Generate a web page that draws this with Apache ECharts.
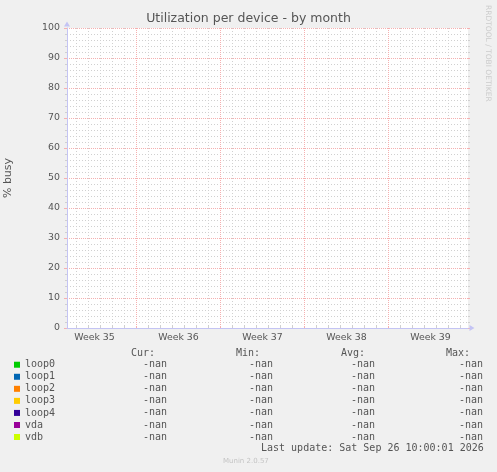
<!DOCTYPE html>
<html><head><meta charset="utf-8">
<script src="https://cdn.jsdelivr.net/npm/echarts@6/dist/echarts.min.js"></script>
<style>html,body{margin:0;padding:0;background:#f0f0f0}#c{width:497px;height:472px}</style>
</head><body><div id="c"></div>
<script>
// ---- data ----
const devices = ['loop0', 'loop1', 'loop2', 'loop3', 'loop4', 'vda', 'vdb'];
const deviceColors = ['#00cc00', '#0066b3', '#ff8000', '#ffcc00', '#330099', '#990099', '#ccff00'];
// every series is NaN (no samples) in the reference
const loop0Values = [];
const loop1Values = [];
const loop2Values = [];
const loop3Values = [];
const loop4Values = [];
const vdaValues = [];
const vdbValues = [];
const curValues = ['-nan', '-nan', '-nan', '-nan', '-nan', '-nan', '-nan'];
const minValues = ['-nan', '-nan', '-nan', '-nan', '-nan', '-nan', '-nan'];
const avgValues = ['-nan', '-nan', '-nan', '-nan', '-nan', '-nan', '-nan'];
const maxValues = ['-nan', '-nan', '-nan', '-nan', '-nan', '-nan', '-nan'];
const statHeaders = ['Cur:', 'Min:', 'Avg:', 'Max:'];
const weekLabels = ['Week 35', 'Week 36', 'Week 37', 'Week 38', 'Week 39'];
const weekCenterDays = [3.5, 10.5, 17.5, 24.5, 31.5];   // days since Sun 2026-08-23
const weekStartDays = [7, 14, 21, 28];
const dayLineDays = [2,3,4,5,6,8,9,10,11,12,13,15,16,17,18,19,20,22,23,24,25,26,27,29,30,31,32,33,34];
const viewStartDay = 1.2083;
const viewEndDay = 34.625;
const yMin = 0, yMax = 100, yStep = 10;
const titleText = 'Utilization per device - by month';
const yName = '% busy';
const lastUpdate = 'Last update: Sat Sep 26 10:00:01 2026';
const footer = 'Munin 2.0.57';
const sideText = 'RRDTOOL / TOBI OETIKER';

const deviceValues = [loop0Values, loop1Values, loop2Values, loop3Values, loop4Values, vdaValues, vdbValues];
const statColumns = [curValues, minValues, avgValues, maxValues];

// ---- layout ----
const MONO = '"DejaVu Sans Mono", monospace';
const SANS = '"DejaVu Sans", sans-serif';
const TXT = '#555555';
const MAJOR = '#f5b0b0';
const MINOR = '#d0d0d0';
const AXIS = '#c4c4f4';
const headerX = [131, 236, 341, 446];
const valueX = [143, 249, 351, 459];
const rowY0 = 364.7, rowStep = 12.05, headerY = 353.2;

const chart = echarts.init(document.getElementById('c'), null, {renderer: 'canvas'});

const graphics = [];
statHeaders.forEach((h, i) => graphics.push({
  type: 'text', x: headerX[i], y: headerY, silent: true,
  style: {text: h, font: '10px ' + MONO, fill: TXT, verticalAlign: 'middle'}
}));
statColumns.forEach((col, ci) => col.forEach((v, ri) => graphics.push({
  type: 'text', x: valueX[ci], y: rowY0 + ri * rowStep, silent: true,
  style: {text: v, font: '10px ' + MONO, fill: TXT, verticalAlign: 'middle'}
})));
graphics.push({type: 'text', x: 261, y: 448.3, silent: true,
  style: {text: lastUpdate, font: '10px ' + MONO, fill: TXT, verticalAlign: 'middle'}});
graphics.push({type: 'text', x: 223, y: 461.5, silent: true,
  style: {text: footer, font: '7px ' + SANS, fill: '#c4c4c4', verticalAlign: 'middle'}});
graphics.push({type: 'text', x: 487.5, y: 5, rotation: -Math.PI / 2, silent: true,
  style: {text: sideText, font: '7.5px ' + SANS, fill: '#cccccc', verticalAlign: 'middle'}});

const series = devices.map((name, i) => ({
  name: name, type: 'line', data: deviceValues[i], color: deviceColors[i],
  showSymbol: false, lineStyle: {width: 1}
}));

function gridAxis(values, color, dash, z) {
  return {
    type: 'value', gridIndex: 0, position: 'top', min: viewStartDay, max: viewEndDay,
    z: z, silent: true,
    axisLine: {show: false}, axisLabel: {show: false},
    axisTick: {show: true, length: 2, customValues: values, lineStyle: {color: color}},
    splitLine: {show: true, lineStyle: {color: color, type: dash, width: 1}}
  };
}

chart.setOption({
  backgroundColor: '#f0f0f0',
  animation: false,
  title: {text: titleText, left: 'center', top: 12, padding: 0,
    textStyle: {fontFamily: SANS, fontSize: 12.5, fontWeight: 'normal', color: TXT}},
  legend: {orient: 'vertical', left: 14, top: 358.7, padding: 0, itemGap: 0,
    itemWidth: 6, itemHeight: 6, icon: 'rect', selectedMode: false,
    data: devices,
    textStyle: {fontFamily: MONO, fontSize: 10, color: TXT, lineHeight: 12.05}},
  grid: {left: 67, top: 28, width: 401, height: 300, show: true,
    backgroundColor: '#ffffff', borderWidth: 0, containLabel: false,
    outerBoundsMode: 'none'},
  xAxis: [{
    type: 'value', min: viewStartDay, max: viewEndDay, z: 3,
    splitLine: {show: false}, axisTick: {show: false},
    axisLine: {show: true, onZero: false, lineStyle: {color: AXIS, width: 1},
      symbol: ['none', 'triangle'], symbolSize: [6, 5], symbolOffset: [0, 4]},
    axisLabel: {customValues: weekCenterDays, margin: 5, color: TXT,
      fontFamily: SANS, fontSize: 9.4,
      formatter: v => weekLabels[Math.round((v - weekCenterDays[0]) / 7)]}
  },
    gridAxis(dayLineDays, MINOR, [1, 2], 1),
    gridAxis(weekStartDays, MAJOR, [1, 1], 2)
  ],
  yAxis: [{
    type: 'value', min: yMin, max: yMax, interval: yStep, z: 2,
    name: yName, nameLocation: 'middle', nameRotate: 90, nameGap: 53,
    nameTextStyle: {fontFamily: SANS, fontSize: 11, color: TXT},
    axisLine: {show: true, lineStyle: {color: AXIS, width: 1},
      symbol: ['none', 'triangle'], symbolSize: [6, 5], symbolOffset: [0, 4]},
    axisTick: {show: true, length: 3, lineStyle: {color: MAJOR}},
    minorTick: {show: true, splitNumber: 5, length: 2, lineStyle: {color: MINOR}},
    axisLabel: {margin: 7, color: TXT, fontFamily: SANS, fontSize: 9.4},
    splitLine: {show: true, lineStyle: {color: MAJOR, type: [1, 1], width: 1}},
    minorSplitLine: {show: true, lineStyle: {color: MINOR, type: [1, 2], width: 1}}
  }, {
    type: 'value', position: 'right', min: yMin, max: yMax, interval: yStep, z: 1,
    silent: true, axisLine: {show: false}, axisLabel: {show: false},
    splitLine: {show: false},
    axisTick: {show: true, length: 2, lineStyle: {color: MAJOR}},
    minorTick: {show: true, splitNumber: 5, length: 2, lineStyle: {color: MINOR}}
  }],
  graphic: graphics,
  series: series
});
</script></body></html>
